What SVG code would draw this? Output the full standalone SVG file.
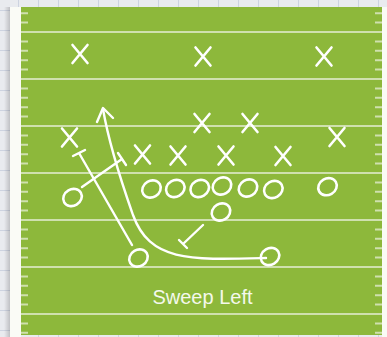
<svg xmlns="http://www.w3.org/2000/svg" width="387" height="337" viewBox="0 0 387 337">
<defs>
<pattern id="grid" width="20" height="20" patternUnits="userSpaceOnUse" x="-2" y="-10">
<rect width="20" height="20" fill="#e9ebef"/>
<path d="M0,0.5H20M0.5,0V20" stroke="#cdd3e0" stroke-width="1" fill="none"/>
</pattern>
<linearGradient id="shadow" x1="0" x2="1" y1="0" y2="0">
<stop offset="0" stop-color="#000" stop-opacity="0"/>
<stop offset="1" stop-color="#000" stop-opacity="0.18"/>
</linearGradient>
<style>
.yard{stroke:#cfe0ae;stroke-width:2;fill:none}
.tick{stroke:#cfe0ae;stroke-width:2;fill:none}
.x{stroke:#fff;stroke-width:2.6;fill:none;stroke-linecap:round}
.o{stroke:#fff;stroke-width:2.6;fill:none}
.route{stroke:#fff;stroke-width:2.4;fill:none;stroke-linecap:round;stroke-linejoin:round}
.label{fill:#f4f8ec;font-family:"Liberation Sans",Arial,sans-serif;font-size:20px}
</style>
</defs>
<rect width="387" height="337" fill="url(#grid)"/>
<rect x="4" y="7" width="6" height="330" fill="url(#shadow)"/>
<rect x="10" y="7" width="11" height="330" fill="#fafbf6"/>
<rect x="382" y="7" width="5" height="330" fill="#fafbf6"/>
<rect x="21" y="7" width="361" height="328" fill="#8db83b"/>
<g id="field-lines">
<path class="yard" d="M21,32H382M21,79H382M21,126H382M21,173H382M21,220H382M21,267H382M21,314H382"/>
<path class="tick" d="M21,13.2h7M21,22.6h7M21,41.4h7M21,50.8h7M21,60.2h7M21,69.6h7M21,88.4h7M21,97.8h7M21,107.2h7M21,116.6h7M21,135.4h7M21,144.8h7M21,154.2h7M21,163.6h7M21,182.4h7M21,191.8h7M21,201.2h7M21,210.6h7M21,229.4h7M21,238.8h7M21,248.2h7M21,257.6h7M21,276.4h7M21,285.8h7M21,295.2h7M21,304.6h7M21,323.4h7M21,332.8h7"/>
<path class="tick" d="M375,13.2h7M375,22.6h7M375,41.4h7M375,50.8h7M375,60.2h7M375,69.6h7M375,88.4h7M375,97.8h7M375,107.2h7M375,116.6h7M375,135.4h7M375,144.8h7M375,154.2h7M375,163.6h7M375,182.4h7M375,191.8h7M375,201.2h7M375,210.6h7M375,229.4h7M375,238.8h7M375,248.2h7M375,257.6h7M375,276.4h7M375,285.8h7M375,295.2h7M375,304.6h7M375,323.4h7M375,332.8h7"/>
</g>
<g id="connectors">
<path id="sweep" class="route" d="M266,258 C190,260 150,262 133,215 C126,195 110,150 103,109"/>
<path id="sweep-head" class="route" d="M97,122 L103,108 L113,118"/>
<path id="block1" class="route" d="M79,153 L132,245 M73,156 L85,150"/>
<path id="block2" class="route" d="M82,187 L122,159 M118,153 L126,165"/>
<path id="block3" class="route" d="M203,225 L183,244 M179,240 L187,248"/>
</g>
<g id="x1" transform="translate(80,54)"><path class="x" d="M-7.5,-9L7.5,9M7.5,-9L-7.5,9"/></g>
<g id="x2" transform="translate(203,56.5)"><path class="x" d="M-7.5,-9L7.5,9M7.5,-9L-7.5,9"/></g>
<g id="x3" transform="translate(324,56.5)"><path class="x" d="M-7.5,-9L7.5,9M7.5,-9L-7.5,9"/></g>
<g id="x4" transform="translate(69.5,137.5)"><path class="x" d="M-7.5,-9L7.5,9M7.5,-9L-7.5,9"/></g>
<g id="x5" transform="translate(202,123)"><path class="x" d="M-7.5,-9L7.5,9M7.5,-9L-7.5,9"/></g>
<g id="x6" transform="translate(250,123)"><path class="x" d="M-7.5,-9L7.5,9M7.5,-9L-7.5,9"/></g>
<g id="x7" transform="translate(142.5,154.5)"><path class="x" d="M-7.5,-9L7.5,9M7.5,-9L-7.5,9"/></g>
<g id="x8" transform="translate(178,155.5)"><path class="x" d="M-7.5,-9L7.5,9M7.5,-9L-7.5,9"/></g>
<g id="x9" transform="translate(226,155.5)"><path class="x" d="M-7.5,-9L7.5,9M7.5,-9L-7.5,9"/></g>
<g id="x10" transform="translate(283,156)"><path class="x" d="M-7.5,-9L7.5,9M7.5,-9L-7.5,9"/></g>
<g id="x11" transform="translate(337,137)"><path class="x" d="M-7.5,-9L7.5,9M7.5,-9L-7.5,9"/></g>
<g id="o1" transform="translate(72.5,197.5) rotate(-30)"><ellipse class="o" rx="9.6" ry="8.2"/></g>
<g id="o2" transform="translate(151.5,189) rotate(-30)"><ellipse class="o" rx="9.6" ry="8.2"/></g>
<g id="o3" transform="translate(175.3,188.5) rotate(-30)"><ellipse class="o" rx="9.6" ry="8.2"/></g>
<g id="o4" transform="translate(199.7,188.5) rotate(-30)"><ellipse class="o" rx="9.6" ry="8.2"/></g>
<g id="o5" transform="translate(222,186) rotate(-30)"><ellipse class="o" rx="9.6" ry="8.2"/></g>
<g id="o6" transform="translate(248,188) rotate(-30)"><ellipse class="o" rx="9.6" ry="8.2"/></g>
<g id="o7" transform="translate(273.3,189.5) rotate(-30)"><ellipse class="o" rx="9.6" ry="8.2"/></g>
<g id="o8" transform="translate(327.5,186.7) rotate(-30)"><ellipse class="o" rx="9.6" ry="8.2"/></g>
<g id="o9" transform="translate(221,212) rotate(-30)"><ellipse class="o" rx="9.6" ry="8.2"/></g>
<g id="o10" transform="translate(138.5,258) rotate(-30)"><ellipse class="o" rx="9.6" ry="8.2"/></g>
<g id="o11" transform="translate(270,256.5) rotate(-30)"><ellipse class="o" rx="9.6" ry="8.2"/></g>
<g id="title"><text class="label" x="202.5" y="304" text-anchor="middle">Sweep Left</text></g>
</svg>
